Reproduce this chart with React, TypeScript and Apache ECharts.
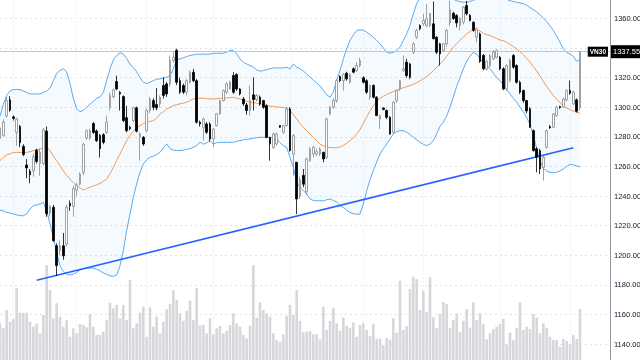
import React, { useEffect, useRef } from "react";
import * as echarts from "echarts";

const symbolName = "VN30";

const opens = [
  1279, 1281, 1294, 1305, 1293.5, 1283, 1287, 1273.6, 1261, 1256.7,
  1257, 1271, 1262, 1262, 1284, 1228.5, 1232.4, 1206.4, 1203, 1206.4,
  1207.5, 1235, 1233, 1244, 1248, 1256, 1279.3, 1279.3, 1289, 1284,
  1281, 1281.5, 1283, 1300, 1307.2, 1317.4, 1310, 1307.2, 1293, 1286.5,
  1291, 1299.6, 1280, 1279.7, 1284, 1297.8, 1304.5, 1301.8, 1302.3, 1314.7,
  1315.8, 1315.8, 1331.6, 1338.4, 1318, 1314.7, 1310.2, 1316.9, 1323.7, 1318,
  1289.9, 1286.5, 1288.7, 1288.7, 1278.6, 1287.6, 1295.5, 1304.5, 1310.2, 1312.4,
  1321.4, 1322.1, 1312.4, 1305.6, 1301.6, 1297.8, 1308.4, 1305.2, 1306.8, 1304.5,
  1301.1, 1279.7, 1272.9, 1275.2, 1287.6, 1283.1, 1287.6, 1298.9, 1268.4, 1262.8,
  1240, 1254, 1243, 1264, 1268.4, 1268.4, 1268.4, 1269.5, 1266.2, 1295.5,
  1300, 1304.5, 1320.8, 1318, 1323, 1316.9, 1326, 1324.8, 1328.2, 1319.9,
  1318, 1306.8, 1314.7, 1306.8, 1292.1, 1299.5, 1297.8, 1293.2, 1283.1, 1304.5,
  1312.4, 1324.8, 1330.5, 1329.3, 1337.2, 1347.4, 1355.3, 1356.4, 1355.3, 1355.3,
  1356.4, 1347.4, 1342.9, 1338.4, 1342.9, 1357, 1363.5, 1362, 1355.3, 1357.5,
  1368.8, 1362.1, 1357.5, 1347.4, 1349.6, 1335, 1325.8, 1328.2, 1332.7, 1333.8,
  1333.8, 1326, 1312.4, 1318, 1335, 1328.2, 1316.9, 1311.3, 1304.5, 1299,
  1284.2, 1272, 1270.7, 1259.4, 1272.9, 1286.9, 1286.5, 1294.4, 1300.5, 1300,
  1305, 1311.3, 1302.3, 1305, 1299.6,
];

const closes = [
  1286, 1290, 1304.5, 1298, 1292.5, 1292, 1276, 1268, 1259, 1254.4,
  1266.6, 1263.4, 1269.5, 1284.6, 1228, 1233, 1209.8, 1193, 1206.4, 1199.6,
  1232.4, 1233.5, 1245, 1247.5, 1255, 1275, 1284.2, 1284.2, 1283, 1277.4,
  1272, 1276.3, 1290, 1308, 1311.7, 1312.4, 1309, 1291, 1284.2, 1285.5,
  1299.6, 1283.8, 1282, 1275.2, 1297.8, 1305.6, 1300, 1299.6, 1306.8, 1308,
  1309, 1331.6, 1333.8, 1316.9, 1310.2, 1310.2, 1318, 1323.7, 1318, 1289.9,
  1288.7, 1292.1, 1283.1, 1278.6, 1285.3, 1295.5, 1304.5, 1311.3, 1315.8, 1316.9,
  1310.2, 1312.4, 1309, 1302.3, 1297.8, 1304.5, 1305.2, 1307.9, 1302.3, 1300,
  1279.7, 1275.2, 1282, 1282, 1286.5, 1287.6, 1298.9, 1270.7, 1280.8, 1238,
  1251, 1248, 1265, 1271.8, 1272.9, 1270, 1271.8, 1265.1, 1292.1, 1300,
  1304.5, 1318, 1318, 1322.1, 1319.2, 1322.1, 1323.7, 1328.2, 1331.6, 1316.9,
  1310.2, 1314.7, 1306.8, 1294.4, 1294.4, 1298.5, 1293.2, 1282, 1303.4, 1311.3,
  1318, 1326, 1321.4, 1320.3, 1342.9, 1351.9, 1353, 1358.7, 1359.8, 1363.2,
  1346.3, 1337.2, 1336.1, 1342.9, 1351.9, 1366, 1360, 1357, 1359.8, 1367.7,
  1363.2, 1358.7, 1351.9, 1353, 1331, 1326, 1331, 1335, 1337.2, 1338.4,
  1326, 1312.4, 1328.2, 1331.6, 1327.1, 1316.9, 1310.2, 1304.5, 1297.5, 1286.5,
  1270.7, 1266.2, 1258.3, 1266.2, 1284.2, 1286, 1295.5, 1300, 1299.8, 1305.6,
  1311.3, 1309.5, 1310.2, 1297.3, 1337.55,
];

const lows = [
  1276, 1280, 1293, 1297, 1291, 1274, 1273, 1267, 1252, 1248.6,
  1253, 1262, 1253.7, 1261, 1226, 1226, 1209, 1186, 1200, 1197,
  1206, 1230, 1226, 1240, 1247, 1254, 1278, 1278, 1282, 1276.5,
  1266, 1275, 1282, 1297.8, 1306, 1311.5, 1297.8, 1290, 1283, 1284.5,
  1290, 1283, 1264, 1274, 1283, 1296, 1298, 1298, 1300, 1306,
  1307, 1314, 1330, 1315, 1309, 1309, 1308, 1316, 1317, 1289,
  1287, 1277.4, 1282, 1277, 1272.9, 1287, 1295, 1304, 1309, 1312,
  1309, 1311, 1308, 1301, 1295, 1294.4, 1297.8, 1304, 1301, 1299,
  1279, 1263.9, 1271.8, 1274, 1286, 1282, 1287, 1270, 1253.8, 1227.8,
  1238, 1246, 1241, 1263, 1266, 1267, 1267, 1262.8, 1265, 1294.4,
  1299, 1303, 1317, 1311.3, 1318, 1316, 1323, 1324, 1327, 1316,
  1309, 1305, 1306, 1294, 1285.3, 1298, 1292, 1281.5, 1282, 1303,
  1311, 1324, 1320, 1319, 1336, 1346, 1352, 1355, 1354, 1354,
  1346, 1336, 1328.2, 1337.5, 1341, 1355, 1359, 1354, 1351.9, 1356,
  1362, 1358, 1351, 1344, 1330, 1325, 1324.8, 1327, 1332, 1333,
  1325, 1311.5, 1311, 1317, 1326, 1316, 1309, 1303, 1296, 1286,
  1270, 1256, 1254.9, 1250.4, 1272, 1285.5, 1286, 1293.5, 1299, 1299.5,
  1304, 1308.5, 1301.5, 1296.5, 1298,
];

const highs = [
  1288, 1292, 1307, 1307.5, 1294.5, 1293, 1288, 1275, 1265, 1258.3,
  1268.7, 1272, 1272, 1286, 1287, 1234, 1234, 1208, 1210, 1215,
  1234, 1237, 1247, 1249, 1256, 1276, 1285, 1285.5, 1290, 1285,
  1282, 1282.5, 1294.4, 1310, 1312.5, 1321.4, 1311, 1308, 1301, 1287.5,
  1300.5, 1300.5, 1283, 1280.5, 1299, 1307, 1306, 1313, 1308, 1320.3,
  1317, 1335, 1337.2, 1339.5, 1320, 1316, 1319, 1324.8, 1326, 1319,
  1291, 1293, 1290, 1290, 1286, 1296, 1305, 1312, 1317, 1318,
  1323.7, 1323, 1313, 1307, 1303, 1314.7, 1320.3, 1309, 1308, 1305,
  1302, 1280, 1283, 1283, 1288, 1288, 1300, 1300, 1282, 1263,
  1253, 1258.3, 1266, 1273, 1274, 1272, 1273, 1270, 1293, 1301,
  1306, 1319, 1321.5, 1323, 1324, 1323, 1327, 1330.5, 1333.5, 1321,
  1319, 1315.5, 1315.5, 1307.5, 1295, 1300, 1298.5, 1294, 1304, 1312,
  1318.5, 1335, 1332.7, 1330, 1344, 1353, 1356, 1363.2, 1370, 1364,
  1371.5, 1348, 1343.5, 1343.5, 1353, 1372, 1364.5, 1363, 1361, 1368.5,
  1372, 1363, 1358, 1354, 1350.5, 1336, 1332, 1336, 1338.5, 1339,
  1334.5, 1327, 1329, 1333, 1336, 1329, 1318, 1312, 1305, 1300,
  1285, 1273, 1272, 1267, 1285, 1288, 1296, 1301, 1301, 1306.5,
  1312, 1318, 1311.3, 1306, 1338,
];

const volumes = [
  36.7, 31.7, 50, 38.3, 40.7, 71.7, 47.3, 47.3, 47.3, 38.3,
  33.3, 36.7, 26.7, 45, 95, 70, 41.7, 56.7, 43.3, 33.3,
  40, 23.3, 31.7, 26.7, 36, 35, 32.7, 46, 33.3, 25,
  25, 28.3, 40, 57.3, 51.7, 55, 41.7, 55, 40, 80,
  31.7, 36.7, 47.3, 53.3, 23.3, 52.7, 33.3, 43.3, 26.7, 38.3,
  50.7, 56, 70, 60, 46.7, 39.3, 49, 59.3, 40, 71.7,
  34.7, 35.3, 26.7, 41.7, 25.7, 31.7, 34, 26.7, 29, 35,
  46.7, 36.7, 33.3, 25, 21.7, 34.3, 95, 42.3, 57.7, 50,
  46.7, 43.3, 26.7, 20, 18.3, 25.7, 44, 55, 45, 70,
  39.3, 27.7, 28.3, 29, 25.7, 25.7, 20.7, 53.3, 30, 39,
  52.3, 36.7, 29.3, 42.3, 34, 31.7, 37.7, 23.3, 35, 36.7,
  30, 24.3, 35.7, 21.3, 21.3, 15, 22, 20, 41.7, 27.3,
  79.3, 30, 34, 71, 83.3, 80.7, 50, 69.3, 48, 82.7,
  42.7, 31.7, 46, 58, 56, 32.3, 40, 46.7, 28, 39.3,
  51, 32.3, 57.7, 40, 46.7, 36, 20.7, 26.7, 30.7, 33.3,
  36, 41, 15.7, 27.3, 20, 32.3, 57.7, 30, 33.3, 31,
  46, 42.3, 26.7, 36.7, 32.3, 23.3, 20, 20, 13.3, 21,
  19, 15.7, 25, 21, 51,
];

const bbUpper = [
  1294, 1302, 1308, 1311, 1312, 1312, 1312, 1311, 1310, 1309,
  1309, 1309, 1309, 1310, 1311, 1313, 1318, 1323, 1325, 1326,
  1324, 1316, 1306, 1299, 1297, 1298, 1300, 1302, 1304, 1306,
  1307, 1310, 1318, 1326, 1332, 1335, 1337, 1336, 1333, 1329,
  1327, 1324, 1320, 1317, 1316, 1317, 1318, 1319, 1319.2, 1319.8,
  1320.3, 1321.4, 1326, 1332, 1332.7, 1333.4, 1334.3, 1335, 1335.4, 1335.9,
  1335.9, 1335.9, 1335.9, 1335.9, 1336.5, 1336.5, 1336.5, 1336.5, 1337.2, 1338.4,
  1338.4, 1336.1, 1332.7, 1330.5, 1329.3, 1328.2, 1327.1, 1325.3, 1324.4, 1324.8,
  1325.5, 1326, 1326.6, 1326.6, 1326.6, 1326.6, 1327.1, 1326, 1329.3, 1327.1,
  1326, 1324.5, 1322.5, 1320.5, 1318.5, 1316.5, 1314.5, 1311.5, 1308.5, 1306.8,
  1310.2, 1318, 1324.8, 1332.7, 1339.5, 1345.1, 1349, 1351.9, 1352.3, 1352.1,
  1350.8, 1349.2, 1347.4, 1345.1, 1342.9, 1340, 1337.2, 1336.6, 1337, 1338.4,
  1340.6, 1345.1, 1349.6, 1355.3, 1363.2, 1370, 1374, 1377, 1379, 1381,
  1382, 1382, 1381, 1379, 1377, 1375, 1373, 1372, 1371.5, 1371,
  1371, 1371.5, 1372.5, 1373, 1373.5, 1374, 1374, 1374, 1374, 1374,
  1374, 1373.5, 1373, 1372, 1371.5, 1371, 1370.5, 1370, 1369, 1367.5,
  1366, 1364.5, 1362.5, 1360.5, 1358, 1355, 1352, 1348, 1344, 1339.5,
  1337, 1336, 1334.5, 1331, 1332.5,
];

const bbMiddle = [
  1264, 1266, 1268, 1268.5, 1269.5, 1269.5, 1269.5, 1269.5, 1269.5, 1270,
  1270.7, 1271.2, 1271.8, 1272.5, 1273, 1270.7, 1267, 1263.9, 1260.5, 1257.1,
  1254, 1251.5, 1249, 1247, 1245.5, 1244.1, 1245, 1245.9, 1246.8, 1247.5,
  1248.6, 1250, 1251.5, 1255, 1259.4, 1264, 1268.4, 1273, 1277.4, 1281,
  1284.2, 1286, 1287.6, 1289, 1289.9, 1290.5, 1291, 1292.5, 1295.5, 1297,
  1298.9, 1300, 1301.1, 1301.7, 1302.3, 1302.8, 1303.4, 1304.5, 1305.6, 1305.9,
  1306.1, 1306.1, 1305.8, 1305.6, 1305.6, 1305.8, 1306, 1306.1, 1306.3, 1306.5,
  1306.8, 1306.2, 1305.6, 1305, 1304.1, 1303.6, 1303.2, 1302.7, 1302.3, 1301.7,
  1301.1, 1300.8, 1300.5, 1300.2, 1300, 1299.8, 1299.6, 1297.8, 1295, 1292.1,
  1289, 1286.5, 1284, 1282, 1279.5, 1277.4, 1275, 1274, 1273.2, 1272.8,
  1272.6, 1272.7, 1273.2, 1274.2, 1275.7, 1277.5, 1279.5, 1282, 1285, 1289,
  1293.5, 1297.5, 1301, 1304, 1306, 1307.5, 1308.7, 1309.7, 1310.6, 1311.5,
  1312.4, 1313.2, 1313.9, 1314.7, 1315.5, 1316.6, 1317.8, 1319.2, 1320.8, 1322.6,
  1324.8, 1327, 1329.3, 1331.6, 1334.5, 1337.6, 1340.6, 1343, 1345.3, 1347.4,
  1349.5, 1351.3, 1353, 1352.5, 1351.5, 1350, 1349, 1348.5, 1347.5, 1346.5,
  1345.5, 1345, 1344, 1342.5, 1341, 1339.5, 1337.5, 1335.5, 1333, 1330.5,
  1327.5, 1324.5, 1321, 1317.5, 1314, 1311, 1308, 1305.5, 1303, 1301,
  1299.5, 1298.4, 1297.4, 1296.6, 1296,
];

const bbLower = [
  1230.5, 1230, 1229, 1228.5, 1227.8, 1227.3, 1226.7, 1226.7, 1228, 1231.2,
  1233.5, 1234, 1234.6, 1235.7, 1230.1, 1221.1, 1212, 1201.9, 1192.9, 1189,
  1187.2, 1186.6, 1187.2, 1188.5, 1190, 1190.8, 1191.3, 1191.3, 1191.3, 1190.5,
  1189.5, 1188, 1187.2, 1186, 1185.7, 1186.6, 1192.9, 1203, 1216.6, 1227.8,
  1239.1, 1248.1, 1256, 1261.7, 1264.4, 1266.2, 1267, 1268, 1269.5, 1272.5,
  1275.2, 1272, 1271, 1270.8, 1270.7, 1271, 1271.5, 1272, 1272.9, 1274,
  1276.5, 1275, 1276, 1277.4, 1275.2, 1276, 1276.3, 1276.3, 1276.3, 1276.3,
  1276.3, 1277, 1277.4, 1278, 1278.3, 1278.6, 1279, 1279.4, 1279.7, 1279.7,
  1279.7, 1279.5, 1279, 1278.6, 1276, 1274, 1272.9, 1266, 1259.4, 1249.2,
  1245.9, 1243.6, 1241.4, 1238, 1237, 1236.8, 1236.8, 1236.8, 1237.5, 1238,
  1237, 1236, 1233.5, 1232.3, 1230.5, 1228.9, 1228, 1227.8, 1227.8, 1234.6,
  1243.6, 1251, 1257.1, 1263, 1268.4, 1272, 1275.2, 1278.5, 1282, 1283.5,
  1284.2, 1284.2, 1283.1, 1281.5, 1279.7, 1278, 1276.3, 1275, 1274.1, 1275,
  1277.4, 1282, 1287, 1290, 1294, 1300, 1307, 1314, 1320, 1326,
  1331, 1334.5, 1337, 1336, 1333, 1330, 1328, 1326, 1323, 1320,
  1318, 1315, 1312, 1309, 1306, 1303.5, 1300, 1297, 1293, 1288.5,
  1281, 1272, 1264, 1258.5, 1257, 1256, 1255.8, 1256, 1257, 1258.3,
  1260, 1261.5, 1261, 1260.5, 1259.5,
];

const trendStart = { index: 11, value: 1183.1 };
const trendEnd = { index: 172, value: 1272.6 };
const monthStarts = [4, 23, 44, 64, 87, 109, 127, 150, 171];
const rightPadBars = 9;
const priceMin = 1120;
const priceMax = 1380;
const priceStep = 20;
const volumeMax = 180;

export default function App() {
  const ref = useRef<HTMLDivElement>(null);

  useEffect(() => {
    const el = ref.current;
    if (!el) return;
    const chart = echarts.init(el, null, { renderer: "svg" });
    const n = closes.length;
    const total = n + rightPadBars;
    const cats = Array.from({ length: total }, (_, i) => String(i));
    const candles = opens.map((o, i) => [o, closes[i], lows[i], highs[i]]);
    const bandSpan = bbUpper.map((u, i) => +(u - bbLower[i]).toFixed(2));
    const monthSet = new Set(monthStarts);
    const lastClose = closes[n - 1];
    const font = "Liberation Sans";
    const trendStyle = { color: "#2962ff", width: 1.6, type: "solid" };

    chart.setOption({
      animation: false,
      textStyle: { fontFamily: font },
      grid: [
        { left: 0, right: 30, top: -11.1, bottom: -13.6, containLabel: false, outerBoundsMode: "none" },
        { left: 0, right: 30, top: 180, bottom: 0, containLabel: false, outerBoundsMode: "none" },
      ],
      xAxis: [
        {
          type: "category",
          data: cats,
          gridIndex: 0,
          boundaryGap: false,
          axisLine: { show: false },
          axisTick: { show: false },
          axisLabel: { show: false },
          splitLine: {
            show: true,
            interval: (idx: number) => monthSet.has(idx),
            lineStyle: { color: "#eef0f4", width: 1, type: [2, 2] },
          },
        },
        {
          type: "category",
          data: cats,
          gridIndex: 1,
          boundaryGap: false,
          show: false,
        },
      ],
      yAxis: [
        {
          type: "value",
          gridIndex: 0,
          position: "right",
          min: priceMin,
          max: priceMax,
          interval: priceStep,
          axisLine: { show: true, lineStyle: { color: "#9598a1", width: 1 } },
          axisTick: { show: false },
          axisLabel: {
            margin: 4,
            fontSize: 7.5,
            color: "#131722",
            fontFamily: font,
            showMinLabel: false,
            showMaxLabel: false,
            formatter: (v: number) => v.toFixed(2),
          },
          splitLine: { show: true, lineStyle: { color: "#e0e3eb", width: 1, type: [2, 3] } },
        },
        {
          type: "value",
          gridIndex: 1,
          min: 0,
          max: volumeMax,
          show: false,
          splitLine: { show: false },
        },
      ],
      series: [
        {
          name: "Volume",
          type: "bar",
          xAxisIndex: 1,
          yAxisIndex: 1,
          data: volumes,
          barWidth: 2.6,
          itemStyle: { color: "#d6d7db" },
          silent: true,
          z: 1,
        },
        {
          name: "bbBase",
          type: "line",
          data: bbLower,
          stack: "bb",
          symbol: "none",
          lineStyle: { opacity: 0 },
          silent: true,
          z: 2,
        },
        {
          name: "bbFill",
          type: "line",
          data: bandSpan,
          stack: "bb",
          symbol: "none",
          lineStyle: { opacity: 0 },
          areaStyle: { color: "rgba(33,150,243,0.07)" },
          silent: true,
          z: 2,
        },
        {
          name: "Upper",
          type: "line",
          data: bbUpper,
          symbol: "none",
          lineStyle: { color: "#5aa9f0", width: 1 },
          silent: true,
          z: 3,
        },
        {
          name: "Lower",
          type: "line",
          data: bbLower,
          symbol: "none",
          lineStyle: { color: "#5aa9f0", width: 1 },
          silent: true,
          z: 3,
        },
        {
          name: "Basis",
          type: "line",
          data: bbMiddle,
          symbol: "none",
          lineStyle: { color: "#f7994f", width: 1 },
          silent: true,
          z: 3,
        },
        {
          name: symbolName,
          type: "candlestick",
          data: candles,
          barWidth: 2.2,
          itemStyle: {
            color: "#ffffff",
            color0: "#000000",
            borderColor: "#8a8a8a",
            borderColor0: "#000000",
            borderWidth: 0.8,
          },
          z: 5,
          markLine: {
            silent: true,
            symbol: ["none", "none"],
            label: { show: false },
            data: [
              { yAxis: lastClose, lineStyle: { color: "#c4c6cc", width: 1, type: "solid" } },
              [
                { coord: [trendStart.index, trendStart.value], lineStyle: trendStyle },
                { coord: [trendEnd.index, trendEnd.value], lineStyle: trendStyle },
              ],
            ],
          },
        },
      ],
    });

    const axisX = chart.convertToPixel({ xAxisIndex: 0 }, total - 1) as number;
    const py = chart.convertToPixel({ yAxisIndex: 0 }, lastClose) as number;
    chart.setOption({
      graphic: [
        {
          type: "text",
          x: axisX - 2,
          y: py,
          z: 100,
          style: {
            text: symbolName,
            fill: "#ffffff",
            font: `bold 6.5px "${font}"`,
            backgroundColor: "#000000",
            padding: [2, 2, 1, 2],
            align: "right",
            verticalAlign: "middle",
          },
        },
        {
          type: "text",
          x: axisX + 1,
          y: py,
          z: 100,
          style: {
            text: lastClose.toFixed(2),
            fill: "#ffffff",
            font: `7.5px "${font}"`,
            backgroundColor: "#000000",
            padding: [3, 2, 2, 2],
            align: "left",
            verticalAlign: "middle",
          },
        },
      ],
    });

    return () => chart.dispose();
  }, []);

  return <div ref={ref} style={{ position: "fixed", left: 0, top: 0, width: 640, height: 360 }} />;
}
